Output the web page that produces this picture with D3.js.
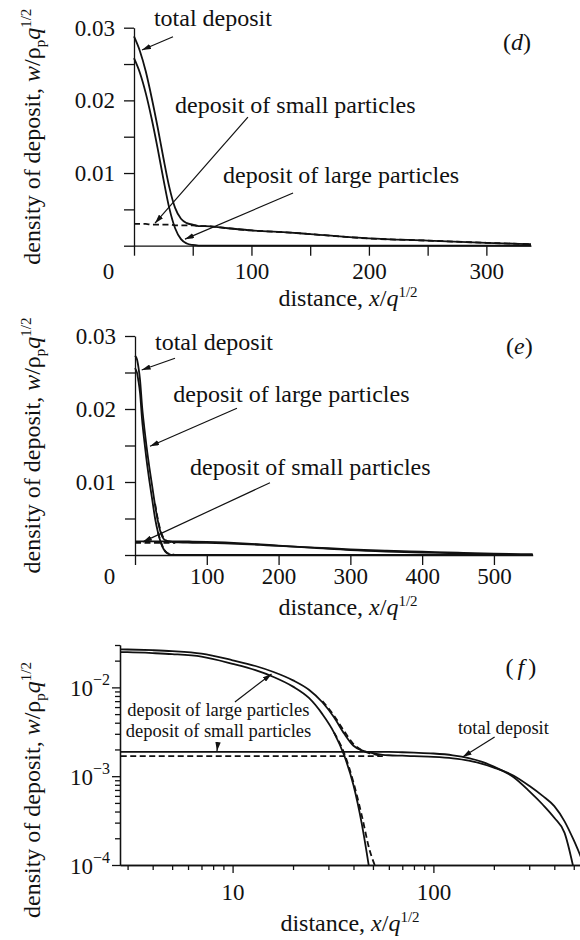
<!DOCTYPE html>
<meta charset="utf-8">
<style>
body { margin: 0; background: #fff; }
svg { display: block; font-family: "Liberation Serif", "Times New Roman", serif; }
.axis path, .axis line { stroke: #111; stroke-width: 1.3px; }
.axis text { font-family: "Liberation Serif", serif; font-size: 23px; fill: #111; }
.curve { fill: none; stroke: #111; stroke-width: 1.8px; }
.dash { stroke-dasharray: 6, 3.5; }
.note { font-size: 24px; fill: #111; }
.note.small { font-size: 18.5px; }
.title { font-size: 24px; fill: #111; }
.arrow { stroke: #111; stroke-width: 1.2px; }
</style>
<body>
<script src="https://d3js.org/d3.v7.min.js"></script>
<script>

// panel (d): distance and deposit densities
var dX     = [0, 5, 10, 15, 20, 25, 30, 35, 40, 45, 50, 55, 60, 80, 100, 133, 150, 200, 250, 300, 338];
var dLarge = [0.0258, 0.0238, 0.0210, 0.0175, 0.0135, 0.0092, 0.0052, 0.0024, 0.0009, 0.0003, 0.0001, 0.00002,
              0, 0, 0, 0, 0, 0, 0, 0, 0];
var dSmall = [0.0030, 0.0030, 0.0030, 0.0029, 0.0029, 0.0029, 0.0029, 0.0028, 0.0028, 0.0028, 0.0028, 0.0027,
              0.0027, 0.0024, 0.0021, 0.0018, 0.0016, 0.0010, 0.0007, 0.0004, 0.0002];
var dTotal = [0.0288, 0.0268, 0.0240, 0.0204, 0.0164, 0.0121, 0.0081, 0.0052, 0.0037, 0.0031, 0.0029, 0.0027,
              0.0027, 0.0024, 0.0021, 0.0018, 0.0016, 0.0010, 0.0007, 0.0004, 0.0002];

// panels (e) and (f): same run, linear and log axes
var efX        = [0, 2, 3, 4, 5, 7, 10, 13, 16, 20, 24, 28, 32, 36, 40, 44, 48, 52, 56, 60,
                  70, 80, 100, 125, 150, 175, 200, 250, 300, 350, 400, 450, 500, 554];
var efLarge    = [0.0256, 0.0252, 0.0249, 0.0243, 0.0237, 0.0222, 0.0184, 0.0156, 0.0131, 0.0102,
                  0.0076, 0.0050, 0.0031, 0.0017, 0.00079, 0.00029, 0.000089, 0, 0, 0,
                  0, 0, 0, 0, 0, 0, 0, 0, 0, 0, 0, 0, 0, 0];
var efLargeAlt = [null, null, null, null, null, null, null, null, null, null,
                  null, null, 0.0031, 0.0018, 0.00085, 0.00036, 0.00015, 0.00009, 0, null,
                  null, null, null, null, null, null, null, null, null, null, null, null, null, null];
var efSmall    = [0.00188, 0.00188, 0.00188, 0.00188, 0.00188, 0.00188, 0.00188, 0.00188, 0.00188, 0.00188,
                  0.00188, 0.00188, 0.00188, 0.00188, 0.00188, 0.00188, 0.00188, 0.00188, 0.00188, 0.00188,
                  0.00186, 0.00184, 0.00180, 0.00172, 0.00160, 0.00145, 0.00128, 0.00098, 0.00068, 0.00048,
                  0.00034, 0.00023, 0.00009, 0];
var efSmallAlt = [0.00168, 0.00168, 0.00168, 0.00168, 0.00168, 0.00168, 0.00168, 0.00168, 0.00168, 0.00168,
                  0.00168, 0.00168, 0.00168, 0.00168, 0.00168, 0.00168, 0.00168, 0.00168, 0.00168, null,
                  null, null, null, null, null, null, null, null, null, null, null, null, null, null];
var efTotal    = [0.0273, 0.0270, 0.0267, 0.0262, 0.0256, 0.0240, 0.0202, 0.0174, 0.0149, 0.0120,
                  0.0094, 0.0068, 0.0046, 0.0030, 0.0022, 0.00195, 0.00185, 0.00178, 0.00174, 0.00172,
                  0.00170, 0.00168, 0.00165, 0.00159, 0.00150, 0.00138, 0.00125, 0.00102, 0.00078, 0.00060,
                  0.00046, 0.00031, 0.00019, 0.00011];
var efTotalAlt = [null, null, null, null, null, null, null, null, null, null,
                  null, 0.0070, 0.0048, 0.0032, 0.0023, 0.00196, 0.00182, 0.00174, 0.00169, null,
                  null, null, null, null, null, null, null, null, null, null, null, null, null, null];

// ticks
var linYTicks  = [0, 0.005, 0.01, 0.015, 0.02, 0.025, 0.03];
var linYLabels = [0.01, 0.02, 0.03];
var dXTicks    = [0, 50, 100, 150, 200, 250, 300];
var eXTicks    = [0, 100, 200, 300, 400, 500];
var fXMajor    = [10, 100];
var fXMinor    = [3, 4, 5, 6, 7, 8, 9, 20, 30, 40, 50, 60, 70, 80, 90, 200, 300, 400, 500];
var fYMajor    = [1e-4, 1e-3, 1e-2];
var fYMinor    = [2e-4, 3e-4, 4e-4, 5e-4, 6e-4, 7e-4, 8e-4, 9e-4,
                  2e-3, 3e-3, 4e-3, 5e-3, 6e-3, 7e-3, 8e-3, 9e-3, 2e-2, 3e-2];

var svg = d3.select("body").append("svg").attr("width", 580).attr("height", 940);

svg.append("defs").append("marker")
  .attr("id", "head")
  .attr("viewBox", "0 0 10 6").attr("refX", 10).attr("refY", 3)
  .attr("markerWidth", 9).attr("markerHeight", 5.4)
  .attr("markerUnits", "userSpaceOnUse").attr("orient", "auto")
  .append("path").attr("d", "M0,0L10,3L0,6Z").attr("fill", "#111");

function xTitle(g, cx, base) {
  var t = g.append("text").attr("class", "title").attr("x", cx).attr("y", base).attr("text-anchor", "middle");
  t.append("tspan").text("distance, ");
  t.append("tspan").attr("font-style", "italic").text("x");
  t.append("tspan").text("/");
  t.append("tspan").attr("font-style", "italic").text("q");
  t.append("tspan").attr("font-size", "15px").attr("dy", -9).text("1/2");
}

function yTitle(g, bx, cy) {
  var t = g.append("text").attr("class", "title").attr("text-anchor", "middle")
    .attr("transform", "translate(" + bx + "," + cy + ") rotate(-90)");
  t.append("tspan").text("density of deposit, ");
  t.append("tspan").attr("font-style", "italic").text("w");
  t.append("tspan").text("/\u03c1");
  t.append("tspan").attr("font-size", "15px").attr("dy", 5).text("p");
  t.append("tspan").attr("font-style", "italic").attr("dy", -5).text("q");
  t.append("tspan").attr("font-size", "15px").attr("dy", -9).text("1/2");
}

function tag(g, x, y, letter, spaced) {
  var t = g.append("text").attr("class", "title").attr("x", x).attr("y", y).attr("text-anchor", "end");
  t.append("tspan").text("(");
  t.append("tspan").attr("font-style", "italic").attr("dx", spaced ? 4 : 0).text(letter);
  t.append("tspan").attr("dx", spaced ? 4 : 0).text(")");
}

function notes(g, x, y, list, cls) {
  list.forEach(function(n) {
    if (n.text) {
      g.append("text").attr("class", cls).attr("x", x(n.at[0])).attr("y", y(n.at[1])).text(n.text);
    }
    g.append("line").attr("class", "arrow")
      .attr("x1", x(n.from[0])).attr("y1", y(n.from[1]))
      .attr("x2", x(n.to[0])).attr("y2", y(n.to[1]))
      .attr("marker-end", "url(#head)");
  });
}

function curves(g, xs, series, line) {
  series.forEach(function(s) {
    g.append("path")
      .attr("class", s.dashed ? "curve dash" : "curve")
      .datum(xs.map(function(v, i) { return [v, s.values[i]]; }))
      .attr("d", line);
  });
}

// linear panels (d) and (e)
function linearPanel(p) {
  var g = svg.append("g");
  var x = d3.scaleLinear().domain([0, p.xMax]).range([p.left, p.right]);
  var y = d3.scaleLinear().domain([0, 0.03]).range([p.bottom, p.top]);

  var gx = g.append("g").attr("class", "axis")
    .attr("transform", "translate(0," + p.bottom + ")")
    .call(d3.axisBottom(x).tickValues(p.xTicks).tickSize(10).tickSizeOuter(0).tickPadding(p.xPad)
      .tickFormat(function(d) { return d % 100 === 0 ? d : ""; }));
  gx.selectAll(".tick text").filter(function(d) { return d === 0; }).attr("x", -26);

  g.append("g").attr("class", "axis")
    .attr("transform", "translate(" + p.left + ",0)")
    .call(d3.axisLeft(y).tickValues(linYTicks).tickSize(10).tickSizeOuter(0).tickPadding(9)
      .tickFormat(function(d) { return linYLabels.indexOf(d) >= 0 ? d.toFixed(2) : ""; }));

  var line = d3.line()
    .defined(function(d) { return d[1] != null; })
    .x(function(d) { return x(d[0]); })
    .y(function(d) { return y(d[1]); })
    .curve(d3.curveMonotoneX);
  curves(g, p.xs, p.series, line);

  notes(g, x, y, p.notes, "note");
  tag(g, x(p.xMax), y(p.tagY), p.letter, false);
  xTitle(g, 348, p.bottom + 60);
  yTitle(g, 40, (p.top + p.bottom) / 2);
}

linearPanel({
  left: 134, right: 531, top: 27.7, bottom: 245.7, xMax: 338, xTicks: dXTicks, xPad: 7,
  xs: dX,
  series: [
    { values: dSmall, dashed: true },
    { values: dLarge },
    { values: dTotal }
  ],
  notes: [
    { text: "total deposit", at: [17, 0.0302], from: [33.2, 0.02875], to: [6.8, 0.02693] },
    { text: "deposit of small particles", at: [34.9, 0.0183], from: [97, 0.0177], to: [17.9, 0.0031] },
    { text: "deposit of large particles", at: [75.8, 0.00867], from: [135.4, 0.00725], to: [43.4, 0.0009] }
  ],
  letter: "d", tagY: 0.0269
});

linearPanel({
  left: 135, right: 532.7, top: 336, bottom: 555, xMax: 554, xTicks: eXTicks, xPad: 3,
  xs: efX,
  series: [
    { values: efSmallAlt, dashed: true },
    { values: efSmall },
    { values: efLargeAlt, dashed: true },
    { values: efLarge },
    { values: efTotalAlt, dashed: true },
    { values: efTotal }
  ],
  notes: [
    { text: "total deposit", at: [27.9, 0.0281], from: [55.7, 0.02695], to: [9.3, 0.02534] },
    { text: "deposit of large particles", at: [53.4, 0.0210], from: [142, 0.0201], to: [20.9, 0.0149] },
    { text: "deposit of small particles", at: [76.6, 0.0110], from: [188, 0.0099], to: [11.1, 0.0018] }
  ],
  letter: "e", tagY: 0.0276
});

// log panel (f)
(function() {
  var left = 120, right = 582.7, top = 645, bottom = 865;
  var g = svg.append("g");
  var x = d3.scaleLog().domain([2.75, 554]).range([left, right]);
  var y = d3.scaleLog().domain([1e-4, 0.03]).range([bottom, top]);

  g.append("g").attr("class", "axis")
    .attr("transform", "translate(0," + bottom + ")")
    .call(d3.axisBottom(x).tickValues(fXMinor).tickSize(5).tickSizeOuter(0).tickFormat(""));
  g.append("g").attr("class", "axis")
    .attr("transform", "translate(0," + bottom + ")")
    .call(d3.axisBottom(x).tickValues(fXMajor).tickSize(8).tickSizeOuter(0).tickPadding(11)
      .tickFormat(d3.format("d")));

  g.append("g").attr("class", "axis")
    .attr("transform", "translate(" + left + ",0)")
    .call(d3.axisLeft(y).tickValues(fYMinor).tickSize(5).tickSizeOuter(0).tickFormat(""));
  var gy = g.append("g").attr("class", "axis")
    .attr("transform", "translate(" + left + ",0)")
    .call(d3.axisLeft(y).tickValues(fYMajor).tickSize(8).tickSizeOuter(0).tickFormat(""));
  gy.selectAll(".tick").append("text")
    .attr("x", -10).attr("y", 8).attr("text-anchor", "end")
    .each(function(d) {
      var t = d3.select(this);
      t.append("tspan").text("10");
      t.append("tspan").attr("font-size", "16px").attr("dy", -11)
        .text("\u2212" + Math.round(-Math.log10(d)));
    });

  g.append("clipPath").attr("id", "fclip").append("rect")
    .attr("x", left).attr("y", top - 5).attr("width", right - left).attr("height", bottom - top + 5);

  var line = d3.line()
    .defined(function(d) { return d[1] != null && d[1] > 0 && d[0] > 0; })
    .x(function(d) { return x(d[0]); })
    .y(function(d) { return y(d[1]); })
    .curve(d3.curveMonotoneX);
  var cg = g.append("g").attr("clip-path", "url(#fclip)");
  curves(cg, efX, [
    { values: efSmallAlt, dashed: true },
    { values: efSmall },
    { values: efLargeAlt, dashed: true },
    { values: efLarge },
    { values: efTotalAlt, dashed: true },
    { values: efTotal }
  ], line);

  notes(g, x, y, [
    { text: "deposit of large particles", at: [2.99, 0.00476], from: [10.27, 0.00686], to: [15.63, 0.01416] },
    { text: "deposit of small particles", at: [2.94, 0.00279], from: [8.45, 0.00235], to: [8.36, 0.00192] },
    { text: "total deposit", at: [132.5, 0.00296], from: [201.8, 0.00276], to: [139.9, 0.00164] }
  ], "note small");

  tag(g, x(325.4), y(0.0138), "f", true);
  xTitle(g, 350, 931);
  yTitle(g, 40, 790);
})();

</script>
</body>
